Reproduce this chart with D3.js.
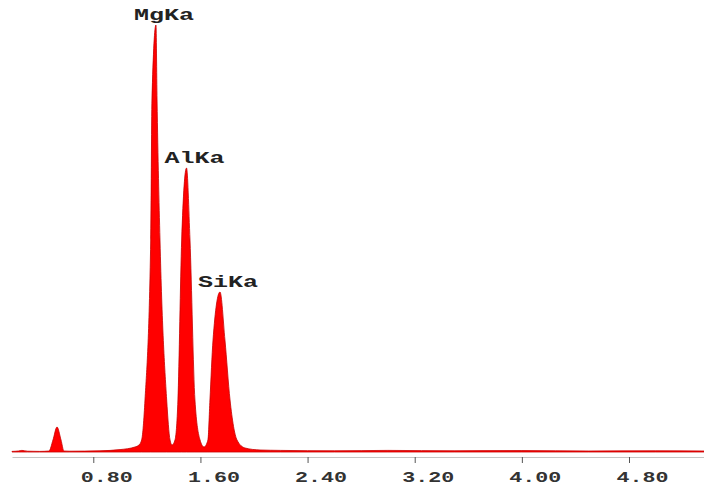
<!DOCTYPE html>
<html>
<head>
<meta charset="utf-8">
<script src="https://cdn.jsdelivr.net/npm/d3@7"></script>
<style>
  body { margin: 0; background: #fff; }
  svg { display: block; }
</style>
</head>
<body>
<div id="chart"></div>
<script>
// spectrum: energy (keV) and counts
const energies = [0.193, 0.24, 0.267, 0.31, 0.40, 0.469, 0.499, 0.529, 0.559, 0.581, 0.62, 0.85, 1.0, 1.111, 1.141,
  1.161, 1.186, 1.229, 1.238, 1.268, 1.276, 1.298, 1.348, 1.373, 1.388,
  1.410, 1.432, 1.460, 1.496, 1.522, 1.559, 1.597, 1.627,
  1.656, 1.671, 1.694, 1.746, 1.783, 1.821, 1.873, 1.933, 2.045,
  2.2, 2.6, 3.0, 3.5, 4.0, 4.5, 5.0, 5.36];
const counts = [3, 5, 8, 4, 3, 5, 60, 125, 60, 5, 4, 6, 12, 25, 35,
  60, 260, 1060, 1760, 2135, 1760, 1060, 260, 60, 35,
  60, 260, 1060, 1420, 1060, 260, 60, 25,
  60, 260, 560, 800, 560, 260, 60, 20, 10,
  8, 6, 8, 6, 7, 5, 6, 5];

const peakNames = ["MgKa", "AlKa", "SiKa"];
const peakEnergies = [1.268, 1.496, 1.746];
const peakCounts = [2135, 1420, 800];

const tickValues = [0.8, 1.6, 2.4, 3.2, 4.0, 4.8];

const width = 704, height = 486;

const svg = d3.select("#chart").append("svg")
    .attr("width", width)
    .attr("height", height);

const x = d3.scaleLinear()
    .domain([0.193, 5.36])
    .range([12, 704]);

const y = d3.scaleLinear()
    .domain([0, 2200])
    .range([452, 12]);

const data = energies.map((e, i) => ({e: e, c: counts[i]}));

// axis
const axis = svg.append("g")
    .attr("transform", "translate(0,457)")
    .call(d3.axisBottom(x)
      .tickValues(tickValues)
      .tickSize(6)
      .tickSizeOuter(0)
      .tickFormat(d3.format(".2f")));

axis.select(".domain").attr("stroke", "#c4c4c4");
axis.selectAll(".tick line").attr("stroke", "#555");
axis.selectAll(".tick text")
    .attr("dx", 13)
    .attr("y", 14)
    .attr("fill", "#333")
    .style("font-family", "'Liberation Mono', 'DejaVu Sans Mono', monospace")
    .style("font-weight", "bold")
    .style("font-size", "15px")
    .attr("textLength", 52)
    .attr("lengthAdjust", "spacingAndGlyphs");

// spectrum
const area = d3.area()
    .x(d => x(d.e))
    .y0(y(0))
    .y1(d => y(d.c))
    .curve(d3.curveMonotoneX);

svg.append("path")
    .datum(data)
    .attr("d", area)
    .attr("fill", "#ff0000")
    .attr("stroke", "#c80000")
    .attr("stroke-width", 0.8);

// peak labels
svg.selectAll(".peak")
  .data(peakNames)
  .enter().append("text")
    .attr("class", "peak")
    .attr("x", (d, i) => x(peakEnergies[i]) + 8)
    .attr("y", (d, i) => y(peakCounts[i]) - 5)
    .attr("text-anchor", "middle")
    .attr("fill", "#222")
    .style("font-family", "'Liberation Mono', 'DejaVu Sans Mono', monospace")
    .style("font-weight", "bold")
    .style("font-size", "16px")
    .attr("textLength", 60)
    .attr("lengthAdjust", "spacingAndGlyphs")
    .text(d => d);
</script>
</body>
</html>
